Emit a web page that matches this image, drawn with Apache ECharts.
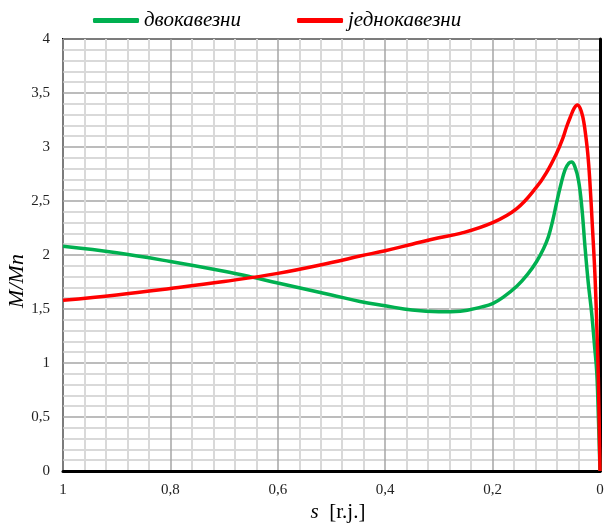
<!DOCTYPE html>
<html>
<head>
<meta charset="utf-8">
<script src="https://cdn.jsdelivr.net/npm/echarts@6/dist/echarts.min.js"></script>
<style>
  html, body { margin: 0; padding: 0; background: #fff; }
  #chart { width: 606px; height: 526px; }
</style>
</head>
<body>
<div id="chart"></div>
<script>
// slip s [r.j.] and torque ratio M/Mn
const sDouble = [1, 0.9, 0.8, 0.7, 0.652, 0.6, 0.5, 0.447, 0.4, 0.35, 0.3, 0.26, 0.22, 0.2, 0.18, 0.155, 0.135, 0.118, 0.105, 0.096, 0.088, 0.081, 0.073, 0.065, 0.058, 0.053, 0.047, 0.04, 0.034, 0.028, 0.022, 0.0155, 0.01, 0.006, 0.003, 0];
const mDouble = [2.08, 2.02, 1.94, 1.85, 1.80, 1.74, 1.63, 1.57, 1.53, 1.49, 1.475, 1.48, 1.52, 1.55, 1.61, 1.71, 1.82, 1.94, 2.06, 2.17, 2.32, 2.48, 2.65, 2.79, 2.85, 2.86, 2.82, 2.69, 2.45, 2.08, 1.75, 1.46, 1.15, 0.91, 0.5, 0];

const sSingle = [1, 0.9, 0.8, 0.7, 0.6, 0.5, 0.447, 0.4, 0.35, 0.3, 0.26, 0.2, 0.155, 0.118, 0.1, 0.081, 0.07, 0.062, 0.055, 0.048, 0.042, 0.037, 0.032, 0.028, 0.023, 0.019, 0.014, 0.009, 0.005, 0.003, 0.001, 0];
const mSingle = [1.58, 1.63, 1.69, 1.755, 1.83, 1.93, 1.99, 2.04, 2.10, 2.16, 2.20, 2.30, 2.43, 2.63, 2.76, 2.94, 3.07, 3.19, 3.28, 3.36, 3.39, 3.36, 3.28, 3.16, 2.95, 2.69, 2.25, 1.77, 1.2, 0.84, 0.3, 0];

const seriesNames = ["двокавезни", "једнокавезни"];
const xName = "s";
const xUnit = "[r.j.]";
const yName = "M/Mn";

const font = "Liberation Serif";
const fmt = (v) => String(Math.round(v * 10) / 10).replace(".", ",");
const pairs = (xs, ys) => xs.map((s, i) => [s, ys[i]]);

const chart = echarts.init(document.getElementById("chart"));
chart.setOption({
  animation: false,
  legend: {
    data: seriesNames,
    top: 5,
    left: 88,
    itemWidth: 46,
    itemHeight: 5,
    itemGap: 56,
    icon: "roundRect",
    textStyle: { fontFamily: font, fontStyle: "italic", fontSize: 21, color: "#000" },
  },
  grid: {
    show: true,
    left: 63, right: 6, top: 39, bottom: 55,
    outerBoundsMode: "none",
    borderColor: "#000", borderWidth: 2,
  },
  // axis titles placed by hand: the reference sets them off-centre
  graphic: [
    {
      type: "text",
      x: 338, y: 512,
      style: {
        text: "{i|" + xName + "}  " + xUnit,
        align: "center", verticalAlign: "middle",
        font: "21px 'Liberation Serif'", fill: "#000",
        rich: { i: { fontFamily: font, fontStyle: "italic", fontSize: 21, fill: "#000" } },
      },
    },
    {
      type: "text",
      x: 17, y: 281,
      rotation: Math.PI / 2,
      style: {
        text: yName,
        align: "center", verticalAlign: "middle",
        font: "italic 22px 'Liberation Serif'", fill: "#000",
      },
    },
  ],
  xAxis: {
    type: "value",
    min: 0, max: 1, interval: 0.2,
    inverse: true,
    axisLine: { lineStyle: { color: "#000", width: 3 } },
    axisTick: { show: false },
    axisLabel: { fontFamily: font, fontSize: 15, color: "#222", margin: 12, formatter: fmt },
    splitLine: { lineStyle: { color: "#a6a6a6", width: 1.5 } },
    minorTick: { show: true, splitNumber: 5, length: 0 },
    minorSplitLine: { show: true, lineStyle: { color: "#d9d9d9", width: 2 } },
  },
  yAxis: {
    type: "value",
    min: 0, max: 4, interval: 0.5,
    axisLine: { show: true, lineStyle: { color: "#000", width: 3 } },
    axisTick: { show: false },
    axisLabel: { fontFamily: font, fontSize: 15, color: "#222", margin: 13, formatter: fmt },
    splitLine: { lineStyle: { color: "#a6a6a6", width: 1.5 } },
    minorTick: { show: true, splitNumber: 5, length: 0 },
    minorSplitLine: { show: true, lineStyle: { color: "#d9d9d9", width: 2 } },
  },
  series: [
    {
      name: seriesNames[0],
      type: "line",
      data: pairs(sDouble, mDouble),
      showSymbol: false,
      smooth: 0.4,
      lineStyle: { color: "#00b050", width: 3.5 },
      itemStyle: { color: "#00b050" },
    },
    {
      name: seriesNames[1],
      type: "line",
      data: pairs(sSingle, mSingle),
      showSymbol: false,
      smooth: 0.4,
      lineStyle: { color: "#ff0000", width: 3.5 },
      itemStyle: { color: "#ff0000" },
    },
  ],
});
</script>
</body>
</html>
